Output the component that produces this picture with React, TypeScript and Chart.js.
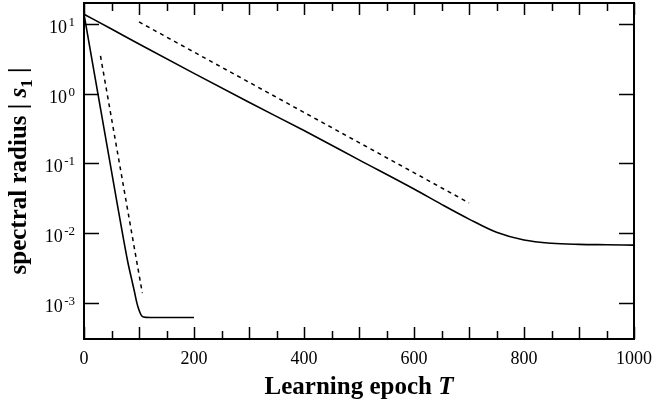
import React, { useEffect, useRef } from "react";
import { Chart, registerables } from "chart.js";

Chart.register(...registerables);

// ---- data ----
const fastT = [0, 20, 40, 60, 72, 80, 87, 92, 96, 100, 104, 108, 120, 200];
const fastS = [13.8, 1.73, 0.217, 0.0272, 8.0e-3, 3.7e-3, 2.1e-3, 1.4e-3, 1.0e-3, 7.8e-4, 6.6e-4, 6.2e-4, 6.1e-4, 6.1e-4];

const slowT = [0, 50, 100, 200, 300, 400, 500, 600, 650, 700, 750, 800, 850, 900, 950, 1000];
const slowS = [13.8, 8.45, 5.16, 1.95, 0.75, 0.295, 0.112, 0.0427, 0.0257, 0.0158, 0.0102, 7.9e-3, 7.1e-3, 6.85e-3, 6.76e-3, 6.68e-3];

const fastFitT = [30, 106];
const fastFitS = [3.47, 1.37e-3];

const slowFitT = [100, 700];
const slowFitS = [10.7, 0.027];

const xLabelTicks = [0, 200, 400, 600, 800, 1000];
const xMajorTicks = [0, 100, 200, 300, 400, 500, 600, 700, 800, 900, 1000];
const xMinorTicks = [50, 150, 250, 350, 450, 550, 650, 750, 850, 950];
const yTickExponents = [-3, -2, -1, 0, 1];

const X_MIN = 0;
const X_MAX = 1000;
const Y_MIN = 3e-4;
const Y_MAX = 20;

const SERIF = "'Liberation Serif', 'Times New Roman', Times, serif";

const pts = (xs: number[], ys: number[]) => xs.map((x, i) => ({ x, y: ys[i] }));

const decorPlugin = {
  id: "decor",
  afterDraw(chart: any) {
    const { ctx, chartArea } = chart;
    const { left, right, top, bottom } = chartArea;
    const xs = chart.scales.x;
    const ys = chart.scales.y;
    ctx.save();
    ctx.strokeStyle = "#000";
    ctx.fillStyle = "#000";

    // top and right frame lines
    ctx.lineWidth = 2;
    ctx.beginPath();
    ctx.moveTo(left, top);
    ctx.lineTo(right, top);
    ctx.lineTo(right, bottom);
    ctx.stroke();

    // inward ticks
    ctx.lineWidth = 1.5;
    ctx.beginPath();
    const xt = (v: number, len: number) => {
      const px = Math.round(xs.getPixelForValue(v)) + 0.5;
      ctx.moveTo(px, bottom);
      ctx.lineTo(px, bottom - len);
      ctx.moveTo(px, top);
      ctx.lineTo(px, top + len);
    };
    xMajorTicks.forEach((v) => xt(v, 12));
    xMinorTicks.forEach((v) => xt(v, 8));
    yTickExponents.forEach((e) => {
      const py = Math.round(ys.getPixelForValue(Math.pow(10, e))) + 0.5;
      ctx.moveTo(left, py);
      ctx.lineTo(left + 15, py);
      ctx.moveTo(right, py);
      ctx.lineTo(right - 15, py);
    });
    ctx.stroke();

    // y tick labels 10^e
    ctx.textBaseline = "alphabetic";
    yTickExponents.forEach((e) => {
      const py = ys.getPixelForValue(Math.pow(10, e));
      const rightX = 75;
      ctx.font = `13px ${SERIF}`;
      ctx.textAlign = "right";
      const exp = String(e);
      const ew = ctx.measureText(exp).width;
      ctx.fillText(exp, rightX, py + 2);
      ctx.font = `18px ${SERIF}`;
      ctx.fillText("10", rightX - ew - 1.5, py + 9);
    });

    // x title: "Learning epoch T"
    ctx.textAlign = "left";
    const xa = "Learning epoch ";
    const xb = "T";
    ctx.font = `bold 25px ${SERIF}`;
    const wa = ctx.measureText(xa).width;
    ctx.font = `italic bold 25px ${SERIF}`;
    const wb = ctx.measureText(xb).width;
    const cx = (left + right) / 2;
    const x0 = cx - (wa + wb) / 2;
    ctx.font = `bold 25px ${SERIF}`;
    ctx.fillText(xa, x0, 394);
    ctx.font = `italic bold 25px ${SERIF}`;
    ctx.fillText(xb, x0 + wa, 394);

    // y title: "spectral radius | s1 |"
    const parts = [
      { t: "spectral radius | ", f: `bold 25px ${SERIF}`, dy: 0 },
      { t: "s", f: `italic bold 25px ${SERIF}`, dy: 0 },
      { t: "1", f: `bold 17px ${SERIF}`, dy: 6 },
      { t: " |", f: `bold 25px ${SERIF}`, dy: 0 },
    ];
    let total = 0;
    const widths = parts.map((p) => {
      ctx.font = p.f;
      const w = ctx.measureText(p.t).width;
      total += w;
      return w;
    });
    ctx.translate(26, (top + bottom) / 2);
    ctx.rotate(-Math.PI / 2);
    let px = -total / 2;
    parts.forEach((p, i) => {
      ctx.font = p.f;
      ctx.fillText(p.t, px, p.dy);
      px += widths[i];
    });
    ctx.restore();
  },
};

export default function App() {
  const ref = useRef<HTMLCanvasElement | null>(null);

  useEffect(() => {
    if (!ref.current) return;
    const chart = new Chart(ref.current, {
      type: "line",
      data: {
        datasets: [
          {
            data: pts(fastT, fastS),
            borderColor: "#000",
            borderWidth: 1.6,
            pointRadius: 0,
            cubicInterpolationMode: "monotone",
            fill: false,
          },
          {
            data: pts(slowT, slowS),
            borderColor: "#000",
            borderWidth: 1.6,
            pointRadius: 0,
            cubicInterpolationMode: "monotone",
            fill: false,
          },
          {
            data: pts(fastFitT, fastFitS),
            borderColor: "#000",
            borderWidth: 1.5,
            borderDash: [4, 4],
            pointRadius: 0,
            fill: false,
          },
          {
            data: pts(slowFitT, slowFitS),
            borderColor: "#000",
            borderWidth: 1.5,
            borderDash: [4, 4],
            pointRadius: 0,
            fill: false,
          },
        ],
      },
      options: {
        responsive: false,
        animation: false,
        devicePixelRatio: 1,
        layout: { padding: { top: 3, right: 22, left: 0, bottom: 0 } },
        plugins: {
          legend: { display: false },
          tooltip: { enabled: false },
        },
        events: [],
        scales: {
          x: {
            type: "linear",
            min: X_MIN,
            max: X_MAX,
            afterBuildTicks: (s: any) => {
              s.ticks = xLabelTicks.map((v) => ({ value: v }));
            },
            afterFit: (s: any) => {
              s.height = 65;
              s.paddingLeft = 0;
              s.paddingRight = 0;
            },
            ticks: {
              color: "#000",
              font: { family: SERIF, size: 18 },
              padding: 9,
              maxRotation: 0,
              autoSkip: false,
              callback: (v: any) => String(v),
            },
            grid: { display: false, drawTicks: false },
            border: { display: true, color: "#000", width: 2 },
          },
          y: {
            type: "logarithmic",
            min: Y_MIN,
            max: Y_MAX,
            afterBuildTicks: (s: any) => {
              s.ticks = yTickExponents.map((e) => ({ value: Math.pow(10, e) }));
            },
            afterFit: (s: any) => {
              s.width = 84;
              s.paddingTop = 0;
              s.paddingBottom = 0;
            },
            ticks: { display: false },
            grid: { display: false, drawTicks: false },
            border: { display: true, color: "#000", width: 2 },
          },
        },
      },
      plugins: [decorPlugin],
    });
    return () => chart.destroy();
  }, []);

  return (
    <div style={{ position: "absolute", left: 0, top: 0, width: 656, height: 404, background: "#fff" }}>
      <canvas ref={ref} width={656} height={404} style={{ display: "block" }} />
    </div>
  );
}
